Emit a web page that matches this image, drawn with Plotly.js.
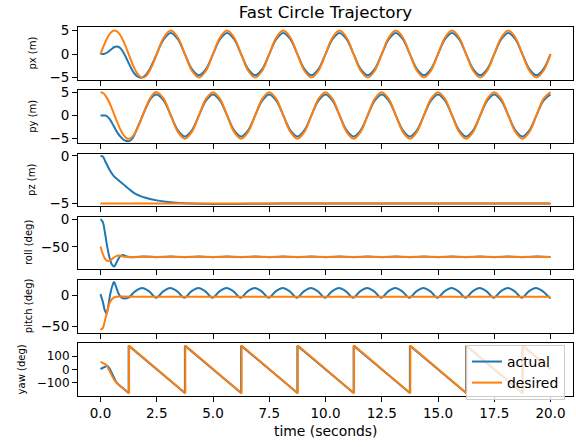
<!DOCTYPE html>
<html><head><meta charset="utf-8">
<script src="https://cdn.plot.ly/plotly-3.0.1.min.js"></script>
<style>html,body{margin:0;padding:0;background:#fff}#chart{width:576px;height:447px}</style>
</head><body><div id="chart"></div>
<script>
// ---- time grids (seconds) ----
const tXY = [0,0.125,0.25,0.375,0.5,0.625,0.75,0.875,1,1.125,1.25,1.375,1.5,1.625,1.75,1.875,2,2.125,2.25,2.375,2.5,
  2.8125,3.125,3.4375,3.75,4.0625,4.375,4.6875,5,
  5.3125,5.625,5.9375,6.25,6.5625,6.875,7.1875,7.5,
  7.8125,8.125,8.4375,8.75,9.0625,9.375,9.6875,10,
  10.3125,10.625,10.9375,11.25,11.5625,11.875,12.1875,12.5,
  12.8125,13.125,13.4375,13.75,14.0625,14.375,14.6875,15,
  15.3125,15.625,15.9375,16.25,16.5625,16.875,17.1875,17.5,
  17.8125,18.125,18.4375,18.75,19.0625,19.375,19.6875,20];

// ---- px ----
const pxActual = [0,0.03,0.2,0.6,1.1,1.5,1.6,1.3,0.5,-0.6,-1.9,-3.1,-4.1,-4.7,-5.0,-4.95,-4.5,-3.7,-2.6,-1.35,0.05,
  3.18,4.5,3.18,0,-3.18,-4.5,-3.18,0,
  3.18,4.5,3.18,0,-3.18,-4.5,-3.18,0,
  3.18,4.5,3.18,0,-3.18,-4.5,-3.18,0,
  3.18,4.5,3.18,0,-3.18,-4.5,-3.18,0,
  3.18,4.5,3.18,0,-3.18,-4.5,-3.18,0,
  3.18,4.5,3.18,0,-3.18,-4.5,-3.18,0,
  3.18,4.5,3.18,0,-3.18,-4.5,-3.18,0];
const pxDesired = [0,1.55,2.94,4.05,4.76,5,4.76,4.05,2.94,1.55,0,-1.55,-2.94,-4.05,-4.76,-5,-4.76,-4.05,-2.94,-1.55,0,
  3.54,5,3.54,0,-3.54,-5,-3.54,0,
  3.54,5,3.54,0,-3.54,-5,-3.54,0,
  3.54,5,3.54,0,-3.54,-5,-3.54,0,
  3.54,5,3.54,0,-3.54,-5,-3.54,0,
  3.54,5,3.54,0,-3.54,-5,-3.54,0,
  3.54,5,3.54,0,-3.54,-5,-3.54,0,
  3.54,5,3.54,0,-3.54,-5,-3.54,0];

// ---- py ----
const pyActual = [0,0,-0.05,-0.6,-1.5,-2.6,-3.7,-4.5,-5.1,-5.45,-5.55,-5.2,-4.2,-2.85,-1.45,0,1.4,2.7,3.7,4.3,4.5,
  3.18,0,-3.18,-4.5,-3.18,0,3.18,4.5,
  3.18,0,-3.18,-4.5,-3.18,0,3.18,4.5,
  3.18,0,-3.18,-4.5,-3.18,0,3.18,4.5,
  3.18,0,-3.18,-4.5,-3.18,0,3.18,4.5,
  3.18,0,-3.18,-4.5,-3.18,0,3.18,4.5,
  3.18,0,-3.18,-4.5,-3.18,0,3.18,4.5,
  3.18,0,-3.18,-4.5,-3.18,0,3.18,4.5];
const pyDesired = [5,4.76,4.05,2.94,1.55,0,-1.55,-2.94,-4.05,-4.76,-5,-4.76,-4.05,-2.94,-1.55,0,1.55,2.94,4.05,4.76,5,
  3.54,0,-3.54,-5,-3.54,0,3.54,5,
  3.54,0,-3.54,-5,-3.54,0,3.54,5,
  3.54,0,-3.54,-5,-3.54,0,3.54,5,
  3.54,0,-3.54,-5,-3.54,0,3.54,5,
  3.54,0,-3.54,-5,-3.54,0,3.54,5,
  3.54,0,-3.54,-5,-3.54,0,3.54,5,
  3.54,0,-3.54,-5,-3.54,0,3.54,5];

// ---- pz ----
const tZ = [0,0.1,0.2,0.4,0.6,0.8,1,1.25,1.5,1.75,2,2.5,3,3.5,4,5,6,7,8,9,10,12,14,16,17,18,20];
const pzActual = [0,-0.05,-0.5,-1.45,-2.15,-2.55,-2.95,-3.45,-3.92,-4.2,-4.4,-4.68,-4.85,-4.95,-5.01,-5.06,-5.06,-5.04,-5.02,-5.01,-5.0,-5.0,-5.0,-5.02,-5.01,-5.0,-5.0];
const tZd = [0,20];
const pzDesired = [-5,-5];

// ---- roll ----
const tR = [0,0.1,0.2,0.3,0.4,0.5,0.6,0.7,0.8,0.9,1,1.1,1.25,1.5,
  1.875,2.5,3.125,3.75,4.375,5,5.625,6.25,6.875,7.5,8.125,8.75,9.375,10,10.625,
  11.25,11.875,12.5,13.125,13.75,14.375,15,15.625,16.25,16.875,17.5,18.125,18.75,19.375,20];
const rollActual = [0,-5,-25,-50,-69,-81,-85,-79,-71,-66,-64.5,-66,-68,-68.5,
  -67,-68.6,-67,-68.6,-67,-68.6,-67,-68.6,-67,-68.6,-67,-68.6,-67,-68.6,-67,
  -68.6,-67,-68.6,-67,-68.6,-67,-68.6,-67,-68.6,-67,-68.6,-67,-68.6,-67,-68];
const rollDesired = [-49,-62,-71,-75,-74.5,-72,-69,-66.5,-65.5,-66,-67,-67.5,-67.8,-68,
  -67.5,-68,-67.5,-68,-67.5,-68,-67.5,-68,-67.5,-68,-67.5,-68,-67.5,-68,-67.5,
  -68,-67.5,-68,-67.5,-68,-67.5,-68,-67.5,-68,-67.5,-68,-67.5,-68,-67.5,-68];

// ---- pitch ----
const tPA = [0,0.1,0.2,0.27,0.35,0.45,0.55,0.6,0.7,0.8,0.9,1.0,1.225,
  1.5375,1.85,2.1625,2.475,2.7875,3.1,3.4125,3.725,4.0375,4.35,4.6625,4.975,
  5.2875,5.6,5.9125,6.225,6.5375,6.85,7.1625,7.475,7.7875,8.1,8.4125,8.725,
  9.0375,9.35,9.6625,9.975,10.2875,10.6,10.9125,11.225,11.5375,11.85,12.1625,12.475,
  12.7875,13.1,13.4125,13.725,14.0375,14.35,14.6625,14.975,15.2875,15.6,15.9125,16.225,
  16.5375,16.85,17.1625,17.475,17.7875,18.1,18.4125,18.725,19.0375,19.35,19.6625,19.975,20];
const pitchActual = [2,-10,-25,-29,-16,5,18,21.5,13,3,-2.5,-4.5,-4,
  6.5,12,6.5,-4, 6.5,12,6.5,-4, 6.5,12,6.5,-4,
  6.5,12,6.5,-4, 6.5,12,6.5,-4, 6.5,12,6.5,-4,
  6.5,12,6.5,-4, 6.5,12,6.5,-4, 6.5,12,6.5,-4,
  6.5,12,6.5,-4, 6.5,12,6.5,-4, 6.5,12,6.5,-4,
  6.5,12,6.5,-4, 6.5,12,6.5,-4, 6.5,12,6.5,-4,-3.8];
const tPD = [0,0.1,0.2,0.3,0.4,0.5,0.6,0.7,0.8,1.0,1.5,3,6,10,15,20];
const pitchDesired = [-55.5,-53,-40,-26,-13,-6.5,-3.5,-2.3,-2,-2,-2.1,-2.2,-2.1,-2.2,-2.1,-2.2];

// ---- yaw ----
const tYA = [0,0.1,0.2,0.3,0.4,0.5,0.6,0.7,0.8,1.0,1.25,1.25,3.75,3.75,6.25,6.25,8.75,8.75,11.25,11.25,13.75,13.75,16.25,16.25,18.75,18.75,20];
const yawActual = [3,13,22,28,8,-25,-70,-96,-113,-141,-178,178,-178,178,-178,178,-178,178,-178,178,-178,178,-178,178,-178,178,5];
const tYD = [0,0.1,0.2,0.3,0.4,0.5,0.6,0.7,0.8,1.0,1.27,1.27,3.77,3.77,6.27,6.27,8.77,8.77,11.27,11.27,13.77,13.77,16.27,16.27,18.77,18.77,20];
const yawDesired = [56,50,40,23,-15,-45,-76,-100,-114,-141,-180,180,-180,180,-180,180,-180,180,-180,180,-180,180,-180,180,-180,180,3];

const xTicks = [0,2.5,5,7.5,10,12.5,15,17.5,20];
const seriesNames = ['actual','desired'];
const chartTitle = 'Fast Circle Trajectory';
const xLabel = 'time (seconds)';

// ---- styling / layout ----
const BLUE = '#1f77b4', ORANGE = '#ff7f0e';
const panels = [
  {ta:tXY, a:pxActual, td:tXY, d:pxDesired, range:[-5.5,5.7], tv:[-5,0,5], label:'px (m)', lx:33, shape:'spline', tf:13.5},
  {ta:tXY, a:pyActual, td:tXY, d:pyDesired, range:[-5.94,5.36], tv:[-5,0,5], label:'py (m)', lx:33, shape:'spline', tf:13.5},
  {ta:tZ, a:pzActual, td:tZd, d:pzDesired, range:[-5.3,0.25], tv:[-5,0], label:'pz (m)', lx:32, shape:'spline', tf:13.5},
  {ta:tR, a:rollActual, td:tR, d:rollDesired, range:[-90.3,4.3], tv:[-50,0], label:'roll (deg)', lx:28, shape:'spline', tf:13.5},
  {ta:tPA, a:pitchActual, td:tPD, d:pitchDesired, range:[-60,25], tv:[-50,0], label:'pitch (deg)', lx:28, shape:'spline', tf:13.5},
  {ta:tYA, a:yawActual, td:tYD, d:yawDesired, range:[-198,198], tv:[-100,0,100], label:'yaw (deg)', lx:21, shape:'linear', tf:12}
];
const domains = [[0.8565,0.9992],[0.6854,0.8280],[0.5142,0.6569],[0.3431,0.4858],[0.1720,0.3146],[0.0008,0.1435]];
const L = 78, R = 3, T = 27, B = 51, W = 576, H = 447;
const plotW = W - L - R;
const plotH = H - T - B;

const data = [];
const layout = {
  width: W, height: H,
  margin: {l:L, r:R, t:T, b:B, pad:0},
  paper_bgcolor: '#fff', plot_bgcolor: '#fff',
  font: {family: 'DejaVu Sans', color: '#000', size: 13.5},
  title: {text: chartTitle, font:{size:16.7, color:'#000'}, x:0.5, xref:'paper', xanchor:'center', y:1-12.5/H, yref:'container', yanchor:'middle'},
  showlegend: true,
  legend: {x:(565-L)/plotW, xanchor:'right', y:-4/plotH, yanchor:'bottom', bgcolor:'rgba(255,255,255,0.8)', bordercolor:'#cccccc', borderwidth:1, font:{size:13.9}, tracegroupgap:0},
  annotations: []
};

panels.forEach((p, i) => {
  const n = i + 1;
  const xa = n === 1 ? 'x' : 'x' + n;
  const ya = n === 1 ? 'y' : 'y' + n;
  data.push({x:p.ta, y:p.a, xaxis:xa, yaxis:ya, mode:'lines', name:seriesNames[0],
    line:{color:BLUE, width:2, shape:p.shape, smoothing:1}, showlegend: n === 6, hoverinfo:'skip'});
  data.push({x:p.td, y:p.d, xaxis:xa, yaxis:ya, mode:'lines', name:seriesNames[1],
    line:{color:ORANGE, width:2, shape:p.shape, smoothing:1}, showlegend: n === 6, hoverinfo:'skip'});
  const axBase = {showline:true, mirror:true, linecolor:'#000', linewidth:1, showgrid:false, zeroline:false,
    ticks:'outside', ticklen:5, tickwidth:1, tickcolor:'#000', tickfont:{size:13.5, color:'#000'}};
  layout['xaxis' + (n === 1 ? '' : n)] = Object.assign({}, axBase, {
    domain:[0,1], anchor: ya, range:[-1,21], tickmode:'array', tickvals:xTicks,
    ticktext: xTicks.map(v => v.toFixed(1)), showticklabels: n === 6
  });
  layout['yaxis' + (n === 1 ? '' : n)] = Object.assign({}, axBase, {
    domain: domains[i], anchor: xa, range:p.range, tickmode:'array', tickvals:p.tv,
    ticktext: p.tv.map(v => v < 0 ? '\u2212' + Math.abs(v) : String(v)),
    tickfont:{size:p.tf, color:'#000'}
  });
  const d = domains[i];
  layout.annotations.push({text:p.label, xref:'paper', yref:'paper', x:(p.lx - L)/plotW, y:(d[0]+d[1])/2,
    xanchor:'center', yanchor:'middle', textangle:-90, showarrow:false, font:{size:10, color:'#000'}});
});
layout.annotations.push({text:xLabel, xref:'paper', yref:'paper', x:0.5, y:-(431-(H-B))/plotH,
  xanchor:'center', yanchor:'middle', showarrow:false, font:{size:13.9, color:'#000'}});

Plotly.newPlot('chart', data, layout, {displayModeBar:false, staticPlot:true});
</script></body></html>
